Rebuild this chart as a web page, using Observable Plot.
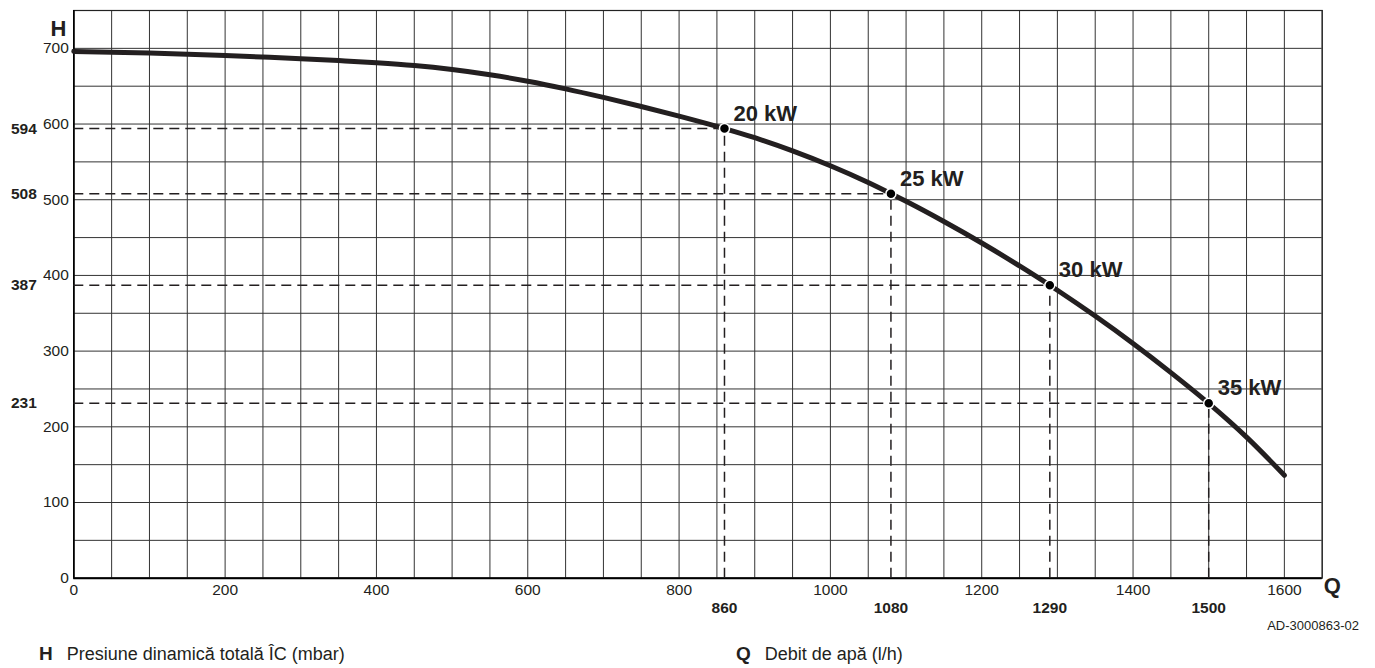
<!DOCTYPE html>
<html>
<head>
<meta charset="utf-8">
<script src="https://cdn.jsdelivr.net/npm/d3@7"></script>
<script src="https://cdn.jsdelivr.net/npm/@observablehq/plot@0.6"></script>
<style>
  html, body { margin: 0; padding: 0; background: #fff; }
  #wrap { position: relative; width: 1375px; height: 668px; font-family: "Liberation Sans", Arial, sans-serif; color: #231f20; }
  .abs { position: absolute; white-space: nowrap; }
  .code { right: 16px; top: 618px; font-size: 13px; line-height: 16px; }
  .leg { top: 643px; font-size: 18px; line-height: 22px; }
  .leg b { display: inline-block; font-size: 19px; margin-right: 14px; }
</style>
</head>
<body>
<div id="wrap"></div>
<script>
// Pump curve
const qCurve = [0,50,100,150,200,250,300,350,400,450,500,550,600,650,700,750,800,860,900,950,1000,1050,1080,1100,1150,1200,1250,1290,1300,1350,1400,1450,1500,1550,1600];
const hCurve = [696,695,693.8,692.3,690.6,688.5,686.3,683.8,681,677.3,672,665.1,656.6,646.5,635.2,623.2,610.4,594,581.9,564.6,544.9,522.7,508,497.9,471.2,442.8,412.5,387,380.4,346.3,310.1,271.6,231,186.4,136];

// Operating points
const qPoints = [860, 1080, 1290, 1500];
const hPoints = [594, 508, 387, 231];
const pointLabels = ["20 kW", "25 kW", "30 kW", "35 kW"];

// Axis ticks
const xTicks = [0, 200, 400, 600, 800, 1000, 1200, 1400, 1600];
const yTicks = [0, 100, 200, 300, 400, 500, 600, 700];
const gridX = d3.range(0, 1651, 50);
const gridY = d3.range(0, 751, 50);

const curve = qCurve.map((q, i) => ({q, h: hCurve[i]}));
const points = qPoints.map((q, i) => ({q, h: hPoints[i], label: pointLabels[i]}));

const ink = "#231f20";
const fmt = d => String(d);

const chart = Plot.plot({
  width: 1375,
  height: 622,
  marginLeft: 73.3,
  marginRight: 53.3,
  marginTop: 10,
  marginBottom: 44.3,
  style: {fontFamily: "'Liberation Sans', Arial, sans-serif", color: ink, background: "#fff", overflow: "visible"},
  x: {domain: [0, 1650]},
  y: {domain: [0, 750]},
  marks: [
    Plot.ruleX(gridX, {stroke: "#333", strokeWidth: 1}),
    Plot.ruleY(gridY, {stroke: "#333", strokeWidth: 1}),
    Plot.frame({stroke: "#222", strokeWidth: 1.2}),
    Plot.ruleX([0], {stroke: "#000", strokeWidth: 1.6}),
    Plot.ruleY([0], {stroke: "#000", strokeWidth: 2}),
    Plot.ruleY(points, {y: "h", x1: 0, x2: "q", stroke: ink, strokeWidth: 1.5, strokeDasharray: "10,6"}),
    Plot.ruleX(points, {x: "q", y1: 0, y2: "h", stroke: ink, strokeWidth: 1.5, strokeDasharray: "10,6"}),
    Plot.line(curve, {x: "q", y: "h", curve: "monotone-x", stroke: ink, strokeWidth: 5, strokeLinecap: "round"}),
    Plot.dot(points, {x: "q", y: "h", r: 5, fill: "#000", stroke: "#fff", strokeWidth: 1.5}),
    Plot.text(points, {x: "q", y: "h", text: "label", dx: 9, dy: -15, textAnchor: "start", fontSize: 22, fontWeight: "bold", fill: ink}),
    Plot.axisX(xTicks, {tickSize: 0, tickPadding: 6, fontSize: 15.5, label: null, fill: ink, tickFormat: fmt}),
    Plot.axisX(qPoints, {tickSize: 0, tickPadding: 23.5, fontSize: 15.5, fontWeight: "bold", label: null, fill: ink, tickFormat: fmt}),
    Plot.axisY(yTicks, {tickSize: 0, tickPadding: 5, fontSize: 15.5, label: null, fill: ink, tickFormat: fmt}),
    Plot.axisY(hPoints, {tickSize: 0, tickPadding: 37, fontSize: 15.5, fontWeight: "bold", label: null, fill: ink, tickFormat: fmt}),
    Plot.text(["H"], {frameAnchor: "top-left", dx: -7.5, dy: 10, textAnchor: "end", fontSize: 22, fontWeight: "bold", fill: ink}),
    Plot.text(["Q"], {frameAnchor: "bottom-right", dx: 1.5, dy: 15, textAnchor: "start", fontSize: 22, fontWeight: "bold", fill: ink})
  ]
});

const wrap = document.getElementById("wrap");
wrap.appendChild(chart);

const code = document.createElement("div");
code.className = "abs code";
code.textContent = "AD-3000863-02";
wrap.appendChild(code);

const legH = document.createElement("div");
legH.className = "abs leg";
legH.style.left = "39px";
legH.innerHTML = "<b>H</b>Presiune dinamică totală ÎC (mbar)";
wrap.appendChild(legH);

const legQ = document.createElement("div");
legQ.className = "abs leg";
legQ.style.left = "736px";
legQ.innerHTML = "<b>Q</b>Debit de apă (l/h)";
wrap.appendChild(legQ);
</script>
</body>
</html>
